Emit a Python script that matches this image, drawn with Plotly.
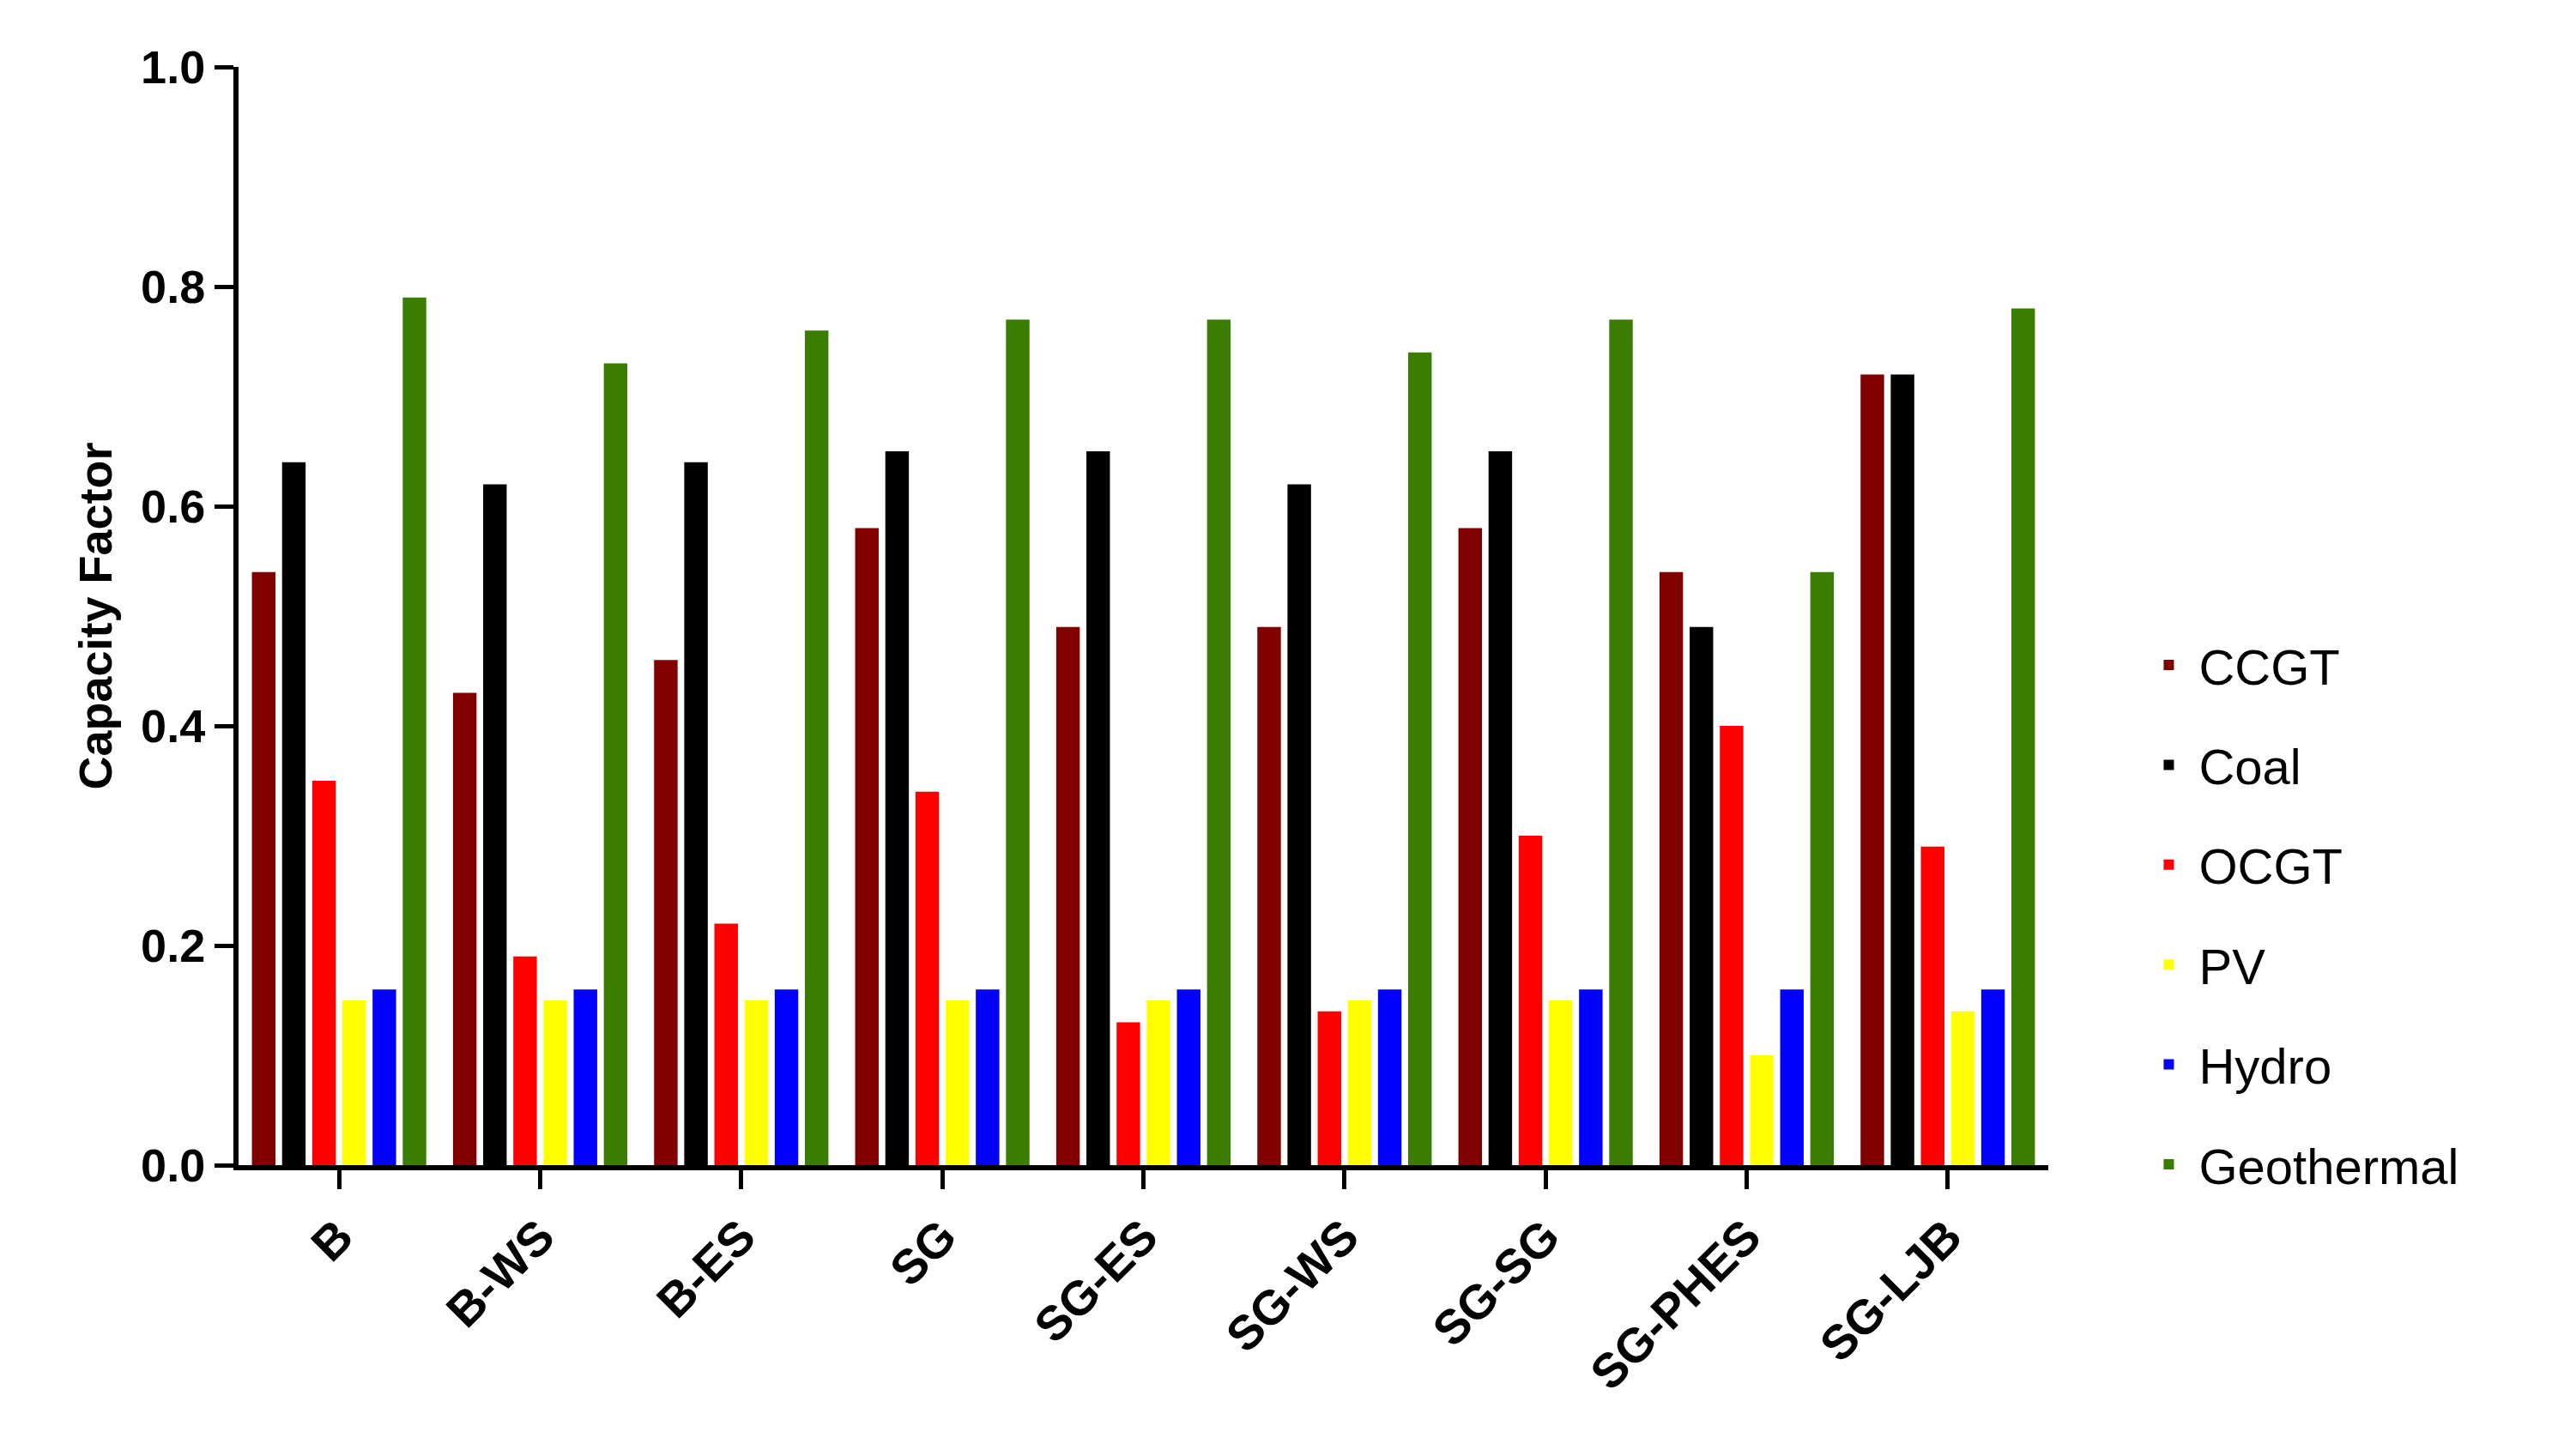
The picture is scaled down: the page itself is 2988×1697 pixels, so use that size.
import plotly.graph_objects as go

scenarios = ["B", "B-WS", "B-ES", "SG", "SG-ES", "SG-WS", "SG-SG", "SG-PHES", "SG-LJB"]
ccgt = [0.54, 0.43, 0.46, 0.58, 0.49, 0.49, 0.58, 0.54, 0.72]
coal = [0.64, 0.62, 0.64, 0.65, 0.65, 0.62, 0.65, 0.49, 0.72]
ocgt = [0.35, 0.19, 0.22, 0.34, 0.13, 0.14, 0.30, 0.40, 0.29]
pv = [0.15, 0.15, 0.15, 0.15, 0.15, 0.15, 0.15, 0.10, 0.14]
hydro = [0.16, 0.16, 0.16, 0.16, 0.16, 0.16, 0.16, 0.16, 0.16]
geothermal = [0.79, 0.73, 0.76, 0.77, 0.77, 0.74, 0.77, 0.54, 0.78]

series = [("CCGT", ccgt, "#800000"), ("Coal", coal, "#000000"), ("OCGT", ocgt, "#ff0000"),
          ("PV", pv, "#ffff00"), ("Hydro", hydro, "#0000ff"), ("Geothermal", geothermal, "#3a7d00")]

fig = go.Figure()
for name, vals, col in series:
    fig.add_trace(go.Bar(x=scenarios, y=vals, name=name, marker_color=col,
                         marker_line_width=0, legendgroup=name))

font = "Liberation Sans, Arial, sans-serif"
fig.update_layout(
    width=2988, height=1697, plot_bgcolor="white", paper_bgcolor="white",
    margin=dict(l=270, r=609, t=70, b=347),
    barmode="group", bargap=0.1, bargroupgap=0.22,
    font=dict(family=font, color="black"),
    legend=dict(x=1.05, y=0.49, xanchor="left", yanchor="top", font=dict(size=58),
                traceorder="grouped", tracegroupgap=38, itemwidth=60),
    xaxis=dict(range=[-0.5, 8.5], showline=True, linecolor="black", linewidth=6,
               ticks="outside", ticklen=22, tickwidth=5, tickcolor="black",
               tickangle=-45, tickfont=dict(size=56, family=font, weight="bold")),
    yaxis=dict(range=[0, 1.0], dtick=0.2, tickformat=".1f", showline=True, linecolor="black",
               linewidth=6, ticks="outside", ticklen=22, tickwidth=5, tickcolor="black",
               showgrid=False, zeroline=False,
               tickfont=dict(size=54, family=font, weight="bold"),
               title=dict(text="Capacity Factor", font=dict(size=54, family=font, weight="bold"),
                          standoff=18)),
)
fig.write_html("out.html")
